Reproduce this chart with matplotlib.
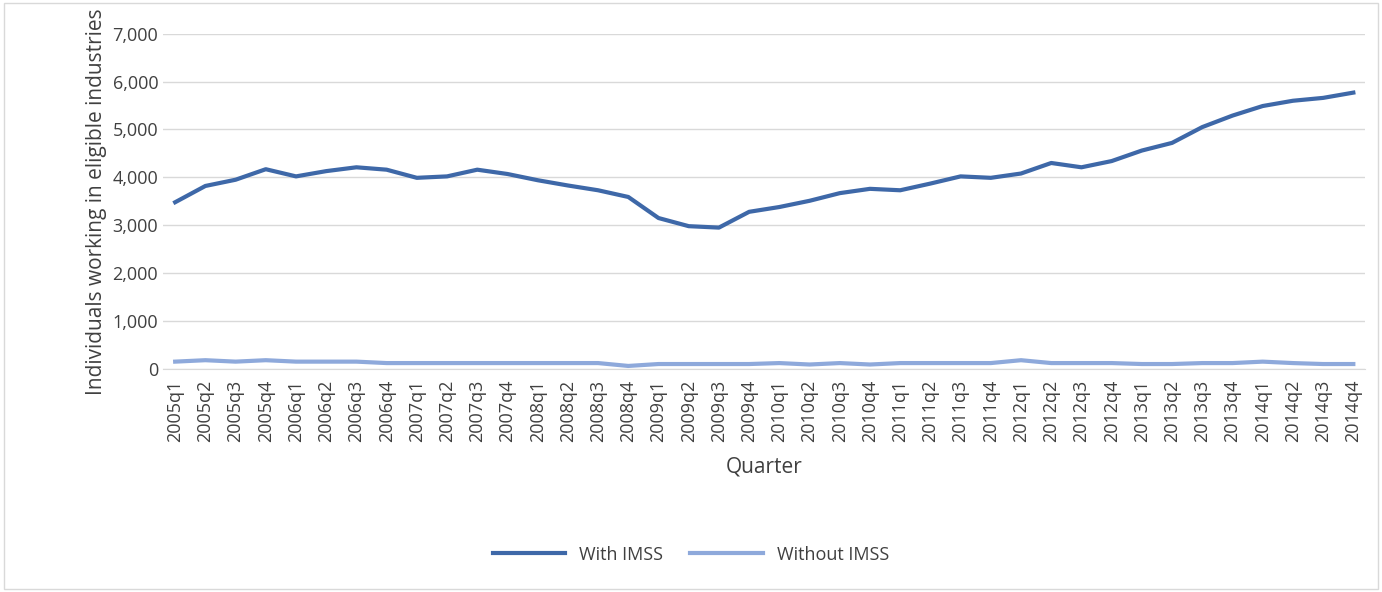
import matplotlib.pyplot as plt
import numpy as np

quarters = [f"{y}q{q}" for y in range(2005, 2015) for q in range(1, 5)]
with_imss = [3480, 3820, 3950, 4170, 4020, 4130, 4210, 4160, 3990, 4020,
             4160, 4070, 3940, 3830, 3730, 3590, 3150, 2980, 2950, 3280,
             3380, 3510, 3670, 3760, 3730, 3870, 4020, 3990, 4080, 4300,
             4210, 4340, 4560, 4720, 5050, 5290, 5490, 5600, 5660, 5770]
without_imss = [150, 180, 150, 180, 150, 150, 150, 120, 120, 120,
                120, 120, 120, 120, 120, 60, 100, 100, 100, 100,
                120, 90, 120, 90, 120, 120, 120, 120, 180, 120,
                120, 120, 100, 100, 120, 120, 150, 120, 100, 100]

plt.rcParams['font.family'] = ['Open Sans', 'DejaVu Sans']
fig = plt.figure(figsize=(13.82, 5.92), dpi=100)
ax = fig.add_axes([0.118, 0.377, 0.87, 0.566])
x = np.arange(len(quarters))
ax.plot(x, with_imss, color='#3E68A8', lw=3, label='With IMSS')
ax.plot(x, without_imss, color='#8EA9DB', lw=3, label='Without IMSS')

ax.set_xlim(-0.4, len(quarters) - 0.6)
ax.set_ylim(0, 7000)
ax.set_yticks(range(0, 7001, 1000))
ax.set_yticklabels([f"{v:,}" for v in range(0, 7001, 1000)])
ax.set_xticks(x)
ax.set_xticklabels(quarters, rotation=90)
ax.tick_params(labelsize=13, colors='#404040', length=0)
ax.tick_params(axis='x', pad=8)
ax.grid(axis='y', color='#D9D9D9', lw=1)
ax.set_axisbelow(True)
for s in ['top', 'right', 'left']:
    ax.spines[s].set_visible(False)
ax.spines['bottom'].set_color('#D9D9D9')
ax.set_ylabel('Individuals working in eligible industries', fontsize=15, color='#404040')
ax.set_xlabel('Quarter', fontsize=15, color='#404040', labelpad=10)
fig.legend(loc='center', bbox_to_anchor=(0.5, 0.063), ncol=2, frameon=False,
           fontsize=13, handlelength=4, columnspacing=1.5, labelcolor='#404040')
fig.patches.append(plt.Rectangle((0.003, 0.005), 0.994, 0.99, transform=fig.transFigure,
                                 fill=False, edgecolor='#D9D9D9', lw=1))
fig.savefig('out.png', dpi=100)
